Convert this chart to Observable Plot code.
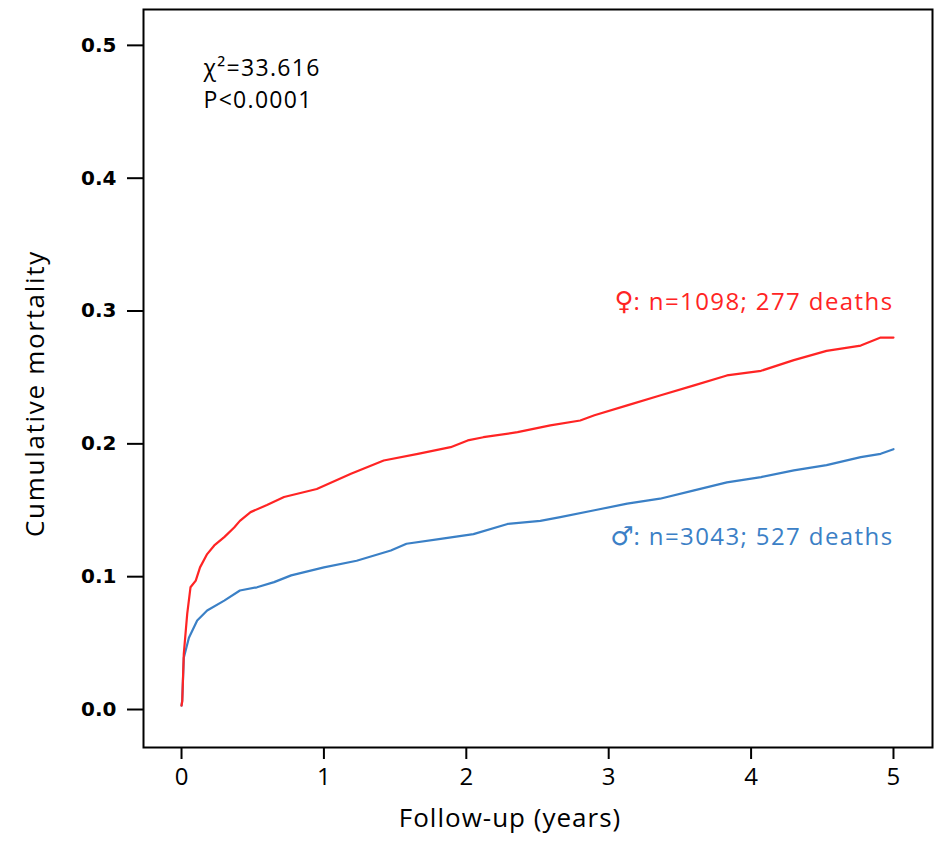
<!DOCTYPE html>
<html>
<head>
<meta charset="utf-8">
<script src="https://cdn.jsdelivr.net/npm/d3@7"></script>
<script src="https://cdn.jsdelivr.net/npm/@observablehq/plot@0.6"></script>
<style>
  html, body { margin: 0; padding: 0; background: #fff; }
  #chart svg { display: block; }
</style>
</head>
<body>
<div id="chart"></div>
<script>
// Female (♀) cumulative mortality
const femaleTime = [0, 0.005, 0.016, 0.04, 0.063, 0.10, 0.13, 0.18, 0.23, 0.30, 0.37, 0.41, 0.485, 0.60, 0.72, 0.95, 1.19, 1.42, 1.66, 1.89, 2.01, 2.12, 2.36, 2.59, 2.80, 2.90, 3.13, 3.36, 3.60, 3.83, 4.07, 4.30, 4.53, 4.77, 4.91, 5.0];
const femaleMort = [0.003, 0.006, 0.042, 0.072, 0.092, 0.097, 0.107, 0.117, 0.1235, 0.1298, 0.137, 0.142, 0.1486, 0.154, 0.160, 0.166, 0.1775, 0.1875, 0.1925, 0.1975, 0.2026, 0.205, 0.2088, 0.2139, 0.2176, 0.2215, 0.229, 0.2364, 0.244, 0.2515, 0.255, 0.263, 0.270, 0.274, 0.280, 0.280];

// Male (♂) cumulative mortality
const maleTime = [0, 0.005, 0.016, 0.052, 0.11, 0.18, 0.30, 0.41, 0.53, 0.65, 0.77, 1.0, 1.23, 1.47, 1.58, 1.82, 2.05, 2.29, 2.52, 2.66, 2.90, 3.13, 3.36, 3.60, 3.83, 4.07, 4.30, 4.53, 4.77, 4.91, 5.0];
const maleMort = [0.003, 0.007, 0.039, 0.054, 0.067, 0.0745, 0.082, 0.0896, 0.092, 0.0959, 0.101, 0.107, 0.112, 0.1197, 0.1248, 0.1285, 0.132, 0.1397, 0.142, 0.1448, 0.150, 0.155, 0.1587, 0.165, 0.171, 0.175, 0.180, 0.184, 0.190, 0.1925, 0.196];

const xTicks = [0, 1, 2, 3, 4, 5];
const yTicks = [0, 0.1, 0.2, 0.3, 0.4, 0.5];

const groupSymbols = ["♀", "♂"];
const groupTexts = [": n=1098; 277 deaths", ": n=3043; 527 deaths"];
const groupLabelX = [5.0, 5.0];
const groupLabelY = [0.3065, 0.1295];
const groupColors = ["#ff2424", "#3b80c6"];

const statLines = ["χ²=33.616", "P<0.0001"];
const xLabel = "Follow-up (years)";
const yLabel = "Cumulative mortality";

const female = femaleTime.map((t, i) => ({t, m: femaleMort[i]}));
const male = maleTime.map((t, i) => ({t, m: maleMort[i]}));
const labels = groupTexts.map((s, i) => ({s: groupSymbols[i] + s, x: groupLabelX[i], y: groupLabelY[i], c: groupColors[i]}));

const sans = "'Open Sans', sans-serif";

const chart = Plot.plot({
  width: 935,
  height: 842,
  marginLeft: 143,
  marginRight: 3,
  marginTop: 9,
  marginBottom: 95,
  style: {background: "#fff", color: "#000"},
  x: {domain: [-0.267, 5.274]},
  y: {domain: [-0.0286, 0.527]},
  marks: [
    Plot.axisY({ticks: yTicks, tickFormat: d3.format(".1f"), tickSize: 16, tickPadding: 11, strokeWidth: 2,
      fontSize: 20, fontFamily: "'DejaVu Sans', sans-serif", fontWeight: "bold", label: null}),
    Plot.axisX({ticks: xTicks, tickFormat: d3.format("d"), tickSize: 12, tickPadding: 8, strokeWidth: 2,
      fontSize: 24, fontFamily: sans, label: null}),
    Plot.frame({stroke: "#000", strokeWidth: 2}),
    Plot.line(male, {x: "t", y: "m", stroke: groupColors[1], strokeWidth: 2.2}),
    Plot.line(female, {x: "t", y: "m", stroke: groupColors[0], strokeWidth: 2.2}),
    Plot.text(labels, {x: "x", y: "y", text: "s", fill: "c", textAnchor: "end", fontSize: 24, fontFamily: sans}),
    Plot.text([statLines.join("\n")], {frameAnchor: "top-left", dx: 60, dy: 44, lineHeight: 1.38, fontSize: 23, fontFamily: sans, fill: "#000"}),
    Plot.text([xLabel], {frameAnchor: "bottom", dx: -28, dy: 79, fontSize: 26, fontFamily: sans, fill: "#000"}),
    Plot.text([yLabel], {frameAnchor: "left", textAnchor: "middle", dx: -108, dy: 15, rotate: -90, fontSize: 26, fontFamily: sans, fill: "#000"})
  ]
});

// widen the lettering to match the reference's wide type; enlarge the sex symbols
const spacing = new Map([[xLabel, 1], [yLabel, 1.7]]);
d3.select(chart).selectAll("text").each(function() {
  const t = this.textContent;
  if (spacing.has(t)) this.setAttribute("letter-spacing", spacing.get(t));
  if (t === statLines.join("")) this.setAttribute("letter-spacing", 1.3);
  const gi = groupTexts.findIndex((s, i) => t === groupSymbols[i] + s);
  if (gi >= 0) {
    this.textContent = "";
    d3.select(this).append("tspan").text(groupSymbols[gi])
      .attr("font-size", 26).attr("font-style", "italic").attr("font-family", "'DejaVu Sans', sans-serif");
    d3.select(this).append("tspan").text(groupTexts[gi]).attr("letter-spacing", 1.4);
  }
});
document.getElementById("chart").appendChild(chart);
</script>
</body>
</html>
